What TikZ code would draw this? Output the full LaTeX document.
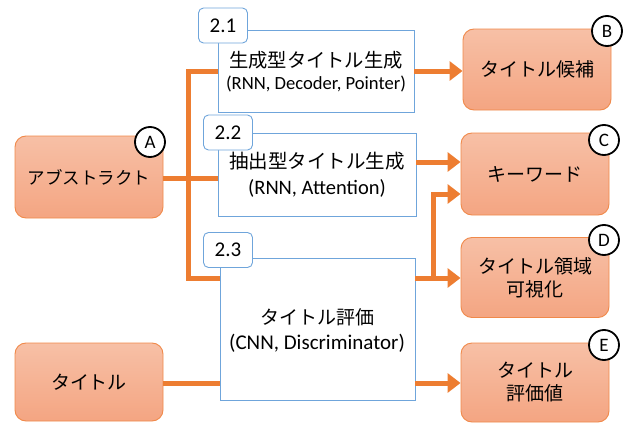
\documentclass[tikz,border=0pt]{standalone}
\usepackage{fontspec}
\setmainfont{Carlito}
\newfontfamily\jp{Noto Sans CJK JP}
\usetikzlibrary{arrows.meta,calc}
\definecolor{orn}{HTML}{ED7D31}
\definecolor{obord}{HTML}{F0894A}
\definecolor{otop}{HTML}{F7C0A6}
\definecolor{obot}{HTML}{F4A582}
\definecolor{blu}{HTML}{6FA5DB}
\tikzset{
  obox/.style={draw=obord, line width=0.9pt, rounded corners=11pt, top color=otop, bottom color=obot,
    minimum width=148pt, align=center, inner sep=0pt, font=\fontsize{19}{23}\selectfont\jp},
  bbox/.style={draw=blu, line width=0.9pt, fill=white, align=center, inner sep=0pt},
  tabbox/.style={draw=blu, line width=0.9pt, fill=white, rounded corners=5pt, minimum width=49pt,
    minimum height=35pt, inner sep=0pt, font=\fontsize{21}{22}\selectfont},
  letter/.style={circle, draw=black, line width=1.8pt, fill=white, minimum size=30pt, inner sep=0pt,
    font=\fontsize{19}{20}\selectfont},
  conn/.style={draw=orn, line width=5pt},
  arr/.style={draw=orn, line width=5pt, -{Triangle[length=13pt,width=19pt]}},
}
\begin{document}
\begin{tikzpicture}[x=1pt,y=-1pt]
\useasboundingbox (0,0) rectangle (630,423);
% orange boxes
\node[obox, minimum height=82pt, font=\fontsize{17.5}{20}\selectfont\jp] (abs) at (89,177) {アブストラクト};
\node[obox, minimum height=78pt] (tit) at (89,382) {タイトル};
\node[obox, minimum height=81pt] (B) at (537,69.5) {タイトル候補};
\node[obox, minimum height=82pt] (C) at (535,174) {キーワード};
\node[obox, minimum height=80pt] (D) at (535,277.5) {タイトル領域\\可視化};
\node[obox, minimum height=79pt] (E) at (535,382.5) {タイトル\\評価値};
% blue boxes
\node[bbox, minimum width=196pt, minimum height=82pt] (m1) at (316,71) {};
\node[bbox, minimum width=198pt, minimum height=83pt] (m2) at (317,174.5) {};
\node[bbox, minimum width=195pt, minimum height=142pt] (m3) at (317.5,329) {};
\node[font=\fontsize{19.3}{20}\selectfont\jp] (t1a) at (316,60) {生成型タイトル生成};
\node[font=\fontsize{18.6}{20}\selectfont] (t1b) at (316,84) {(RNN, Decoder, Pointer)};
\node[font=\fontsize{19.5}{20}\selectfont\jp] (t2a) at (317,161) {抽出型タイトル生成};
\node[font=\fontsize{20.5}{20}\selectfont] (t2b) at (317,188) {(RNN, Attention)};
\node[font=\fontsize{19}{20}\selectfont\jp] (t3a) at (317,317) {タイトル評価};
\node[font=\fontsize{21}{20}\selectfont] (t3b) at (317,343) {(CNN, Discriminator)};
\node[tabbox] (tab1) at (223,25.5) {2.1};
\node[tabbox] (tab2) at (228,132.5) {2.2};
\node[tabbox] (tab3) at (228,250) {2.3};
% letters
\node[letter] (lA) at (150,142) {A};
\node[letter] (lB) at (607,31) {B};
\node[letter] (lC) at (604,140) {C};
\node[letter] (lD) at (604,240) {D};
\node[letter] (lE) at (604,345) {E};
% connectors
\coordinate (j1) at (188,71);
\coordinate (j3) at (188,278);
\coordinate (k1) at (433,278);
\coordinate (k2) at (433,194);
\draw[conn] (m1.west |- j1) -- (j1) -- (j3) -- (m3.west |- j3);
\draw[conn] (abs.east |- 0,178) -- (m2.west |- 0,178);
\draw[conn] (tit.east |- 0,383) -- (m3.west |- 0,383);
\draw[arr] (m1.east |- 0,71) -- (B.west |- 0,71);
\draw[arr] (m2.east |- 0,162) -- (C.west |- 0,162);
\draw[arr] (m3.east |- k1) -- (D.west |- k1);
\draw[arr] (k1) -- (k2) -- (C.west |- k2);
\draw[arr] (m3.east |- 0,383) -- (E.west |- 0,383);
\end{tikzpicture}
\end{document}
